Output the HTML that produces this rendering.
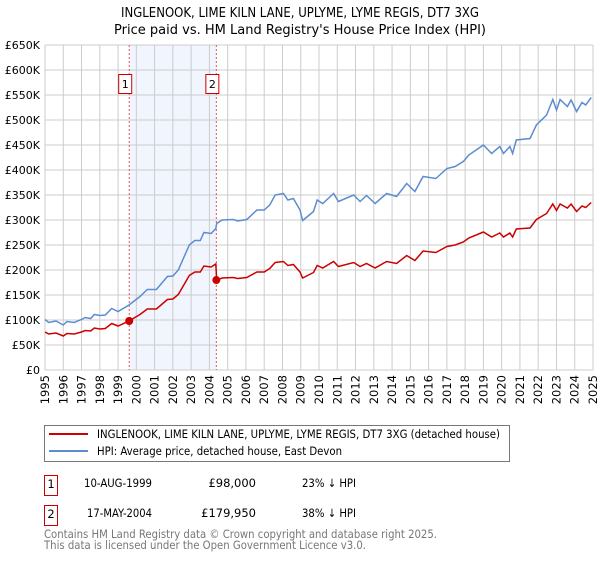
<!DOCTYPE html>
<html><head><meta charset="utf-8"><style>
body{margin:0;background:#fff;width:600px;height:560px;overflow:hidden;font-family:"DejaVu Sans","Liberation Sans",sans-serif}
svg text{font-family:"DejaVu Sans","Liberation Sans",sans-serif}
</style></head><body>
<svg id="chart" width="600" height="560">
<text x="300" y="17" text-anchor="middle" font-size="13" textLength="358" lengthAdjust="spacingAndGlyphs">INGLENOOK, LIME KILN LANE, UPLYME, LYME REGIS, DT7 3XG</text>
<text x="300" y="34" text-anchor="middle" font-size="13" textLength="372" lengthAdjust="spacingAndGlyphs">Price paid vs. HM Land Registry's House Price Index (HPI)</text>
<g id="plot"></g>
<g>
<rect x="44.5" y="425.5" width="465" height="36" fill="#fff" stroke="#777"/>
<line x1="49" y1="434" x2="88" y2="434" stroke="#cc0000" stroke-width="2"/>
<text x="97" y="438" font-size="11.5" textLength="403" lengthAdjust="spacingAndGlyphs">INGLENOOK, LIME KILN LANE, UPLYME, LYME REGIS, DT7 3XG (detached house)</text>
<line x1="49" y1="451" x2="88" y2="451" stroke="#5b8dd0" stroke-width="2"/>
<text x="97" y="455" font-size="11.5" textLength="245" lengthAdjust="spacingAndGlyphs">HPI: Average price, detached house, East Devon</text>
</g>
<g font-size="11.5">
<rect x="44.5" y="475.5" width="13" height="20" fill="none" stroke="#cc0000"/>
<text x="51" y="488" text-anchor="middle">1</text>
<text x="84" y="487" textLength="68" lengthAdjust="spacingAndGlyphs">10-AUG-1999</text>
<text x="256" y="487" text-anchor="end">£98,000</text>
<text x="302" y="487" textLength="54" lengthAdjust="spacingAndGlyphs">23% ↓ HPI</text>
<rect x="44.5" y="505.5" width="13" height="20" fill="none" stroke="#cc0000"/>
<text x="51" y="518" text-anchor="middle">2</text>
<text x="87" y="517" textLength="65" lengthAdjust="spacingAndGlyphs">17-MAY-2004</text>
<text x="256" y="517" text-anchor="end">£179,950</text>
<text x="302" y="517" textLength="54" lengthAdjust="spacingAndGlyphs">38% ↓ HPI</text>
</g>
<text x="44" y="538" font-size="11.5" fill="#777" textLength="393" lengthAdjust="spacingAndGlyphs">Contains HM Land Registry data © Crown copyright and database right 2025.</text>
<text x="44" y="549" font-size="11.5" fill="#777" textLength="322" lengthAdjust="spacingAndGlyphs">This data is licensed under the Open Government Licence v3.0.</text>
</svg>
<script>
const hpiYears=[1995.0,1995.2,1995.6,1996.0,1996.2,1996.6,1997.0,1997.2,1997.5,1997.7,1998.0,1998.3,1998.65,1999.0,1999.6,2000.2,2000.6,2001.1,2001.7,2002.0,2002.3,2002.9,2003.2,2003.5,2003.7,2004.1,2004.35,2004.4,2004.7,2005.3,2005.55,2006.05,2006.6,2007.0,2007.3,2007.6,2008.05,2008.3,2008.6,2008.96,2009.1,2009.7,2009.9,2010.2,2010.8,2011.06,2011.9,2012.25,2012.6,2013.07,2013.7,2014.25,2014.8,2015.25,2015.7,2016.4,2017.0,2017.45,2017.9,2018.2,2019.0,2019.45,2019.9,2020.1,2020.45,2020.6,2020.8,2021.55,2021.9,2022.46,2022.8,2023.0,2023.2,2023.6,2023.8,2024.1,2024.4,2024.6,2024.9];
const hpiValues=[101,95,98,90,97,95,101,105,103,111,109,110,123,117,130,147,161,161,187,188,200,250,259,259,275,273,283,293,300,301,298,301,320,320,330,350,353,340,343,320,299,317,340,333,353,337,350,337,349,333,353,347,373,357,387,383,403,407,417,430,450,433,447,433,447,433,460,463,490,510,541,520,541,527,540,517,535,530,545];
const propertyValues=[76,72,74,68,73,72,76,79,78,84,82,83,93,88,98,111,122,122,141,142,151,189,196,196,208,206,212,180,184,185,183,185,196,196,203,215,217,209,211,196,184,195,209,204,217,207,215,207,213,204,217,213,229,219,238,235,247,250,256,264,276,266,274,266,274,266,282,284,301,313,332,319,332,324,332,317,328,325,335];
const saleYears=[1999.61,2004.38];
const salePrices=[98,179.95];
const saleLabels=["1","2"];
const yTicks=[0,50,100,150,200,250,300,350,400,450,500,550,600,650];
const yTickLabels=["£0","£50K","£100K","£150K","£200K","£250K","£300K","£350K","£400K","£450K","£500K","£550K","£600K","£650K"];
const xTicks=[1995,1996,1997,1998,1999,2000,2001,2002,2003,2004,2005,2006,2007,2008,2009,2010,2011,2012,2013,2014,2015,2016,2017,2018,2019,2020,2021,2022,2023,2024,2025];

const X0=45,X1=593,Y0=370,Y1=45;
const xs=y=>X0+(y-1995)/30*(X1-X0);
const ys=v=>Y0-v/650*(Y0-Y1);
const NS="http://www.w3.org/2000/svg";
const g=document.getElementById('plot');
function mk(tag,attrs){const e=document.createElementNS(NS,tag);for(const k in attrs)e.setAttribute(k,attrs[k]);g.appendChild(e);return e;}

let sh=mk('rect',{x:xs(saleYears[0]),y:Y1,width:xs(saleYears[1])-xs(saleYears[0]),height:Y0-Y1,fill:'#eef3fc',opacity:0.8});



yTicks.forEach((t,i)=>{
  const l=mk('line',{x1:X0,x2:X1,y1:ys(t),y2:ys(t),stroke:'#cccccc','stroke-width':1});
  
  
  const tx=mk('text',{x:X0-5,y:ys(t)+4,'text-anchor':'end','font-size':11});
  tx.textContent=yTickLabels[i];
  
  
});
xTicks.forEach(t=>{
  const l=mk('line',{x1:xs(t),x2:xs(t),y1:Y1,y2:Y0,stroke:'#cccccc','stroke-width':1});
  
  
  const tx=mk('text',{x:0,y:0,'text-anchor':'end','font-size':11.5,transform:`translate(${xs(t)+4},${Y0+5}) rotate(-90)`});
  tx.textContent=t;
  
  
});
saleYears.forEach((s,i)=>{
  const l=mk('line',{x1:xs(s),x2:xs(s),y1:Y1,y2:Y0,stroke:'#ee5555','stroke-width':1,'stroke-dasharray':'2,2'});
  
  
  const r=mk('rect',{x:xs(s)-10.5,y:74.5,width:13,height:19,fill:'#fff',stroke:'#cc0000'});
  
  
  const tx=mk('text',{x:xs(s)-4,y:88,'text-anchor':'middle','font-size':11});
  tx.textContent=saleLabels[i];
  
  
});
const path=(xsArr,vs)=>vs.map((v,i)=>(i?'L':'M')+xs(xsArr[i]).toFixed(1)+','+ys(v).toFixed(1)).join('');
const hl=mk('path',{d:path(hpiYears,hpiValues),fill:'none',stroke:'#5b8dd0','stroke-width':1.5});


const pl=mk('path',{d:path(hpiYears,propertyValues),fill:'none',stroke:'#cc0000','stroke-width':1.5});


saleYears.forEach((s,i)=>{
  const c=mk('circle',{cx:xs(s),cy:ys(salePrices[i]),r:4,fill:'#cc0000'});
  
  
});
</script>
</body></html>
